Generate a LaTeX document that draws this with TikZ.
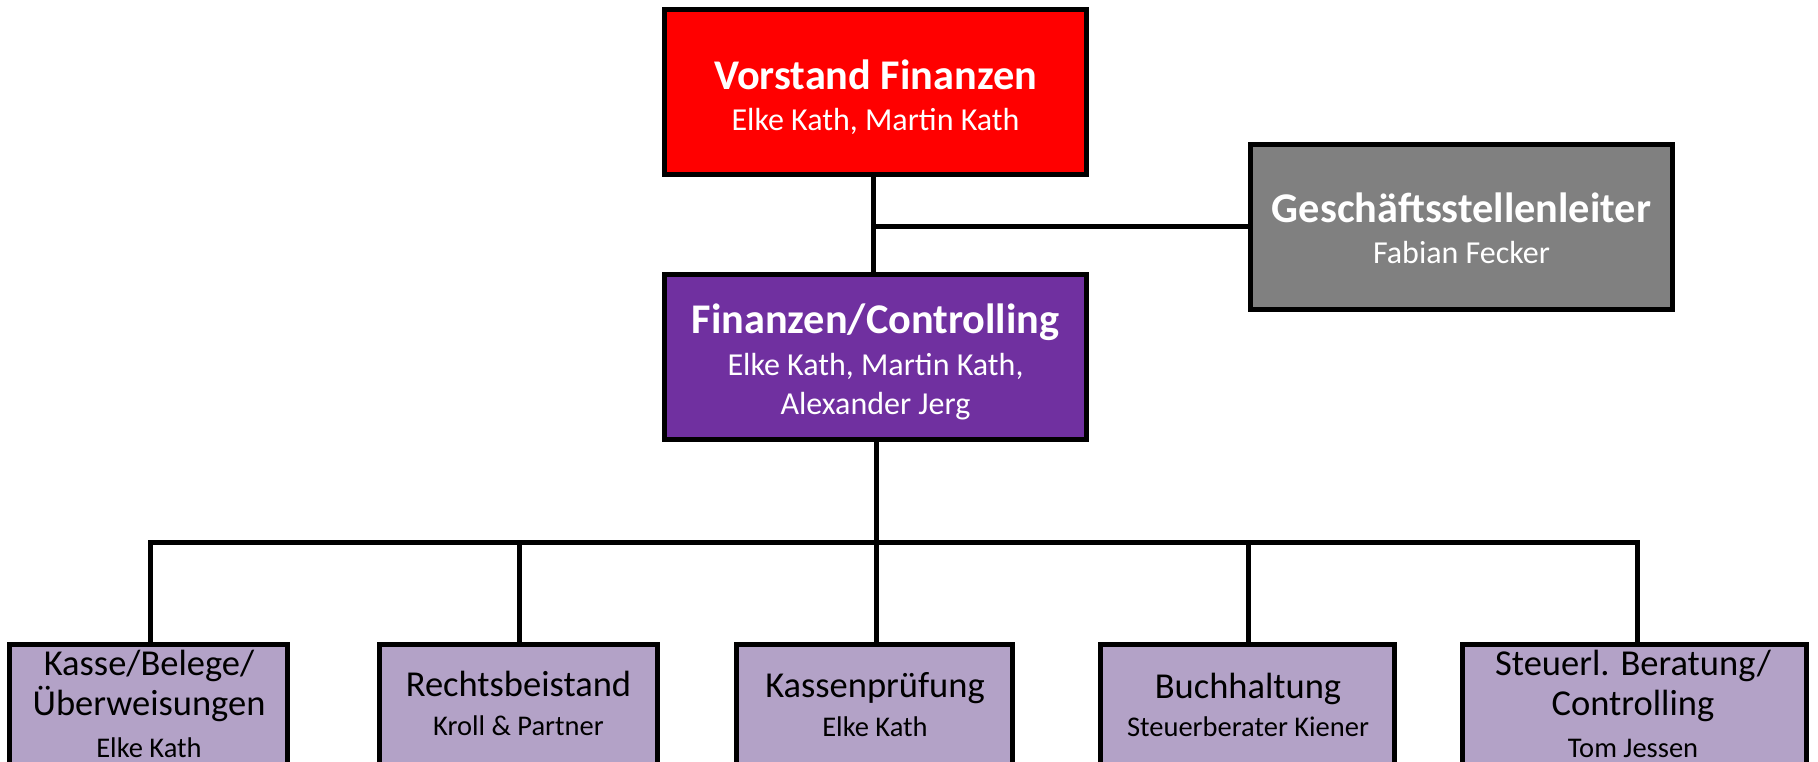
\documentclass[tikz,border=0pt]{standalone}
\usepackage{fontspec}
\setmainfont{Carlito}
\definecolor{lav}{HTML}{B3A2C7}
\definecolor{vio}{HTML}{7030A0}
\definecolor{grayb}{HTML}{808080}
\begin{document}
\begin{tikzpicture}[x=1pt,y=-1pt,
  box/.style={draw=black, line width=5pt, minimum width=422pt, minimum height=165pt, inner sep=0pt},
  sub/.style={draw=black, line width=5pt, fill=lav, minimum height=136pt, inner sep=0pt, anchor=north},
  tl/.style={anchor=base, inner sep=0pt, text=white, font=\fontsize{42.3}{48}\selectfont\bfseries},
  nm/.style={anchor=base, inner sep=0pt, text=white, font=\fontsize{32}{40}\selectfont},
  bt/.style={anchor=base, inner sep=0pt, text=black, font=\fontsize{36.5}{44}\selectfont},
  bn/.style={anchor=base, inner sep=0pt, text=black, font=\fontsize{28.5}{34}\selectfont},
  conn/.style={line width=5pt, line join=miter}]
\useasboundingbox (0,0) rectangle (1818,761);

% upper boxes
\node[box, fill=red] (vf) at (875.5,92) {};
\node[box, fill=grayb] (gs) at (1461.5,227) {};
\node[box, fill=vio] (fc) at (875.5,357) {};

\node[tl] (vf1) at (875.5,89) {Vorstand Finanzen};
\node[nm] (vf2) at (875.5,130.5) {Elke Kath, Martin Kath};
\node[tl] (gs1) at (1461.5,222) {Geschäftsstellenleiter};
\node[nm] (gs2) at (1461.5,263.5) {Fabian Fecker};
\node[tl] (fc1) at (875.5,333) {Finanzen/Controlling};
\node[nm] (fc2) at (875.5,375) {Elke Kath, Martin Kath,};
\node[nm] (fc3) at (875.5,414) {Alexander Jerg};

% lower boxes
\node[sub, minimum width=278pt] (b1) at (148.5,641.5) {};
\node[sub, minimum width=278pt] (b2) at (518.5,641.5) {};
\node[sub, minimum width=276pt] (b3) at (874.5,641.5) {};
\node[sub, minimum width=294pt] (b4) at (1247.5,641.5) {};
\node[sub, minimum width=344pt] (b5) at (1634.5,641.5) {};

\node[bt] (b1a) at (149,675) {Kasse/Belege/};
\node[bt] (b1b) at (149,715.5) {Überweisungen};
\node[bn] (b1c) at (149,757) {Elke Kath};
\node[bt] (b2a) at (518.5,696.5) {Rechtsbeistand};
\node[bn] (b2b) at (518.5,735.5) {Kroll \& Partner};
\node[bt] (b3a) at (875,697.5) {Kassenprüfung};
\node[bn] (b3b) at (875,736) {Elke Kath};
\node[bt] (b4a) at (1248,698.5) {Buchhaltung};
\node[bn] (b4b) at (1248,736) {Steuerberater Kiener};
\node[bt] (b5a) at (1633,675) {Steuerl. Beratung/};
\node[bt] (b5b) at (1633,715.5) {Controlling};
\node[bn] (b5c) at (1633,757) {Tom Jessen};

% connectors
\coordinate (t1) at (150,542);
\coordinate (t2) at (519,542);
\coordinate (t3) at (876,542);
\coordinate (t4) at (1248,542);
\coordinate (t5) at (1637,542);
\coordinate (tv) at (873,226);

\draw[conn] (vf.south -| tv) -- (fc.north -| tv);
\draw[conn] (tv) -- (gs.west |- tv);
\draw[conn] (fc.south -| t3) -- (t3);
\draw[conn] (b1.north -| t1) -- (t1) -- (t5) -- (b5.north -| t5);
\draw[conn] (t2) -- (b2.north -| t2);
\draw[conn] (t3) -- (b3.north -| t3);
\draw[conn] (t4) -- (b4.north -| t4);
\end{tikzpicture}
\end{document}
